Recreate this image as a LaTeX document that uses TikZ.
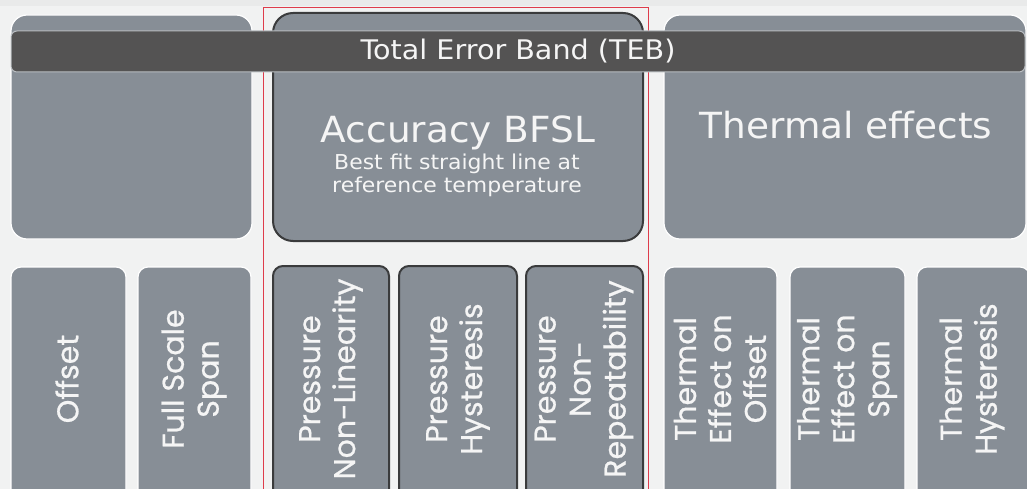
\documentclass[tikz,border=0pt]{standalone}
\usepackage{fontspec}
\setmainfont{DejaVu Sans}
\newfontfamily\cardfont{Poppins}[FakeBold=0.7]
\definecolor{bg}{HTML}{F1F2F2}
\definecolor{topstrip}{HTML}{E9EAEA}
\definecolor{card}{HTML}{878E96}
\definecolor{cardedge}{HTML}{3A3B3C}
\definecolor{band}{HTML}{545353}
\definecolor{bandedge}{HTML}{B9BDC1}
\definecolor{hilite}{RGB}{222,60,75}
\definecolor{ink}{HTML}{F5F5F5}
% widen a caption horizontally
\newcommand{\widen}[2]{\scalebox{#1}[1]{#2}}

\begin{document}
\begin{tikzpicture}[x=1pt,y=-1pt,
  panel/.style={fill=card, draw=white, line width=1.2pt, rounded corners=16pt},
  keypanel/.style={fill=card, draw=cardedge, line width=2pt, rounded corners=20pt},
  tile/.style={fill=card, draw=white, line width=1.2pt, rounded corners=10pt},
  keytile/.style={fill=card, draw=cardedge, line width=2pt, rounded corners=10pt},
  bandbox/.style={fill=band, draw=bandedge, line width=1pt, rounded corners=6pt,
    minimum width=1014pt, minimum height=41pt, inner sep=0pt,
    text=ink, font=\fontsize{27}{30}\selectfont},
  bigtext/.style={text=ink, anchor=base, inner sep=0pt, font=\fontsize{36}{40}\selectfont},
  smalltext/.style={text=ink, anchor=base, inner sep=0pt, font=\fontsize{20.5}{23}\selectfont},
  tiletext/.style={text=ink, rotate=90, align=center, inner sep=0pt,
    font=\cardfont\fontsize{30}{35}\selectfont},
  hiliteframe/.style={draw=hilite, line width=1.4pt},
]
\useasboundingbox (0,0) rectangle (1027,489);
\fill[bg] (0,0) rectangle (1027,489);
\fill[topstrip] (0,0) rectangle (1027,6);
\clip (0,0) rectangle (1027,489);

% upper panels
\draw[panel] (11,15) rectangle (252,239);
\draw[keypanel] (273,13) rectangle (643,241);
\draw[panel] (664,15) rectangle (1026,239);

% lower tiles, running off the bottom edge
\draw[tile] (11,267) rectangle (126,510);
\draw[tile] (138,267) rectangle (251,510);
\draw[keytile] (273,266) rectangle (389,510);
\draw[keytile] (399,266) rectangle (517,510);
\draw[keytile] (526,266) rectangle (643,510);
\draw[tile] (664,267) rectangle (777,510);
\draw[tile] (790,267) rectangle (905,510);
\draw[tile] (917,267) rectangle (1030,510);

% highlight frame round the accuracy column
\path[hiliteframe] (263.5,7.5) -- (648.5,7.5) -- (648.5,520);
\path[hiliteframe] (263.5,520) -- (263.5,7.5);

% total error band
\node[bandbox] (teb) at (518,51.5) {\widen{1.06}{Total Error Band (TEB)}};

% panel captions
\node[bigtext] (acc) at (458,142.7) {\widen{1.04}{Accuracy BFSL}};
\node[smalltext] (accsub1) at (457,170) {\widen{1.07}{Best fit straight line at}};
\node[smalltext] (accsub2) at (457,193) {\widen{1.07}{reference temperature}};
\node[bigtext] (therm) at (846,138.3) {\widen{1.04}{Thermal effects}};

% tile captions
\node[tiletext] (offset) at (67,379) {Offset};
\node[tiletext] (fss) at (194,379) {Full Scale\\Span};
\node[tiletext] (pnl) at (331,379) {Pressure\\Non-Linearity};
\node[tiletext] (phys) at (458,379) {Pressure\\Hysteresis};
\node[tiletext] (pnr) at (584,379) {Pressure\\Non-\\Repeatability};
\node[tiletext] (teo) at (720,379) {Thermal\\Effect on\\Offset};
\node[tiletext] (tes) at (847,379) {Thermal\\Effect on\\Span};
\node[tiletext] (th) at (972,379) {Thermal\\Hysteresis};
\end{tikzpicture}
\end{document}
